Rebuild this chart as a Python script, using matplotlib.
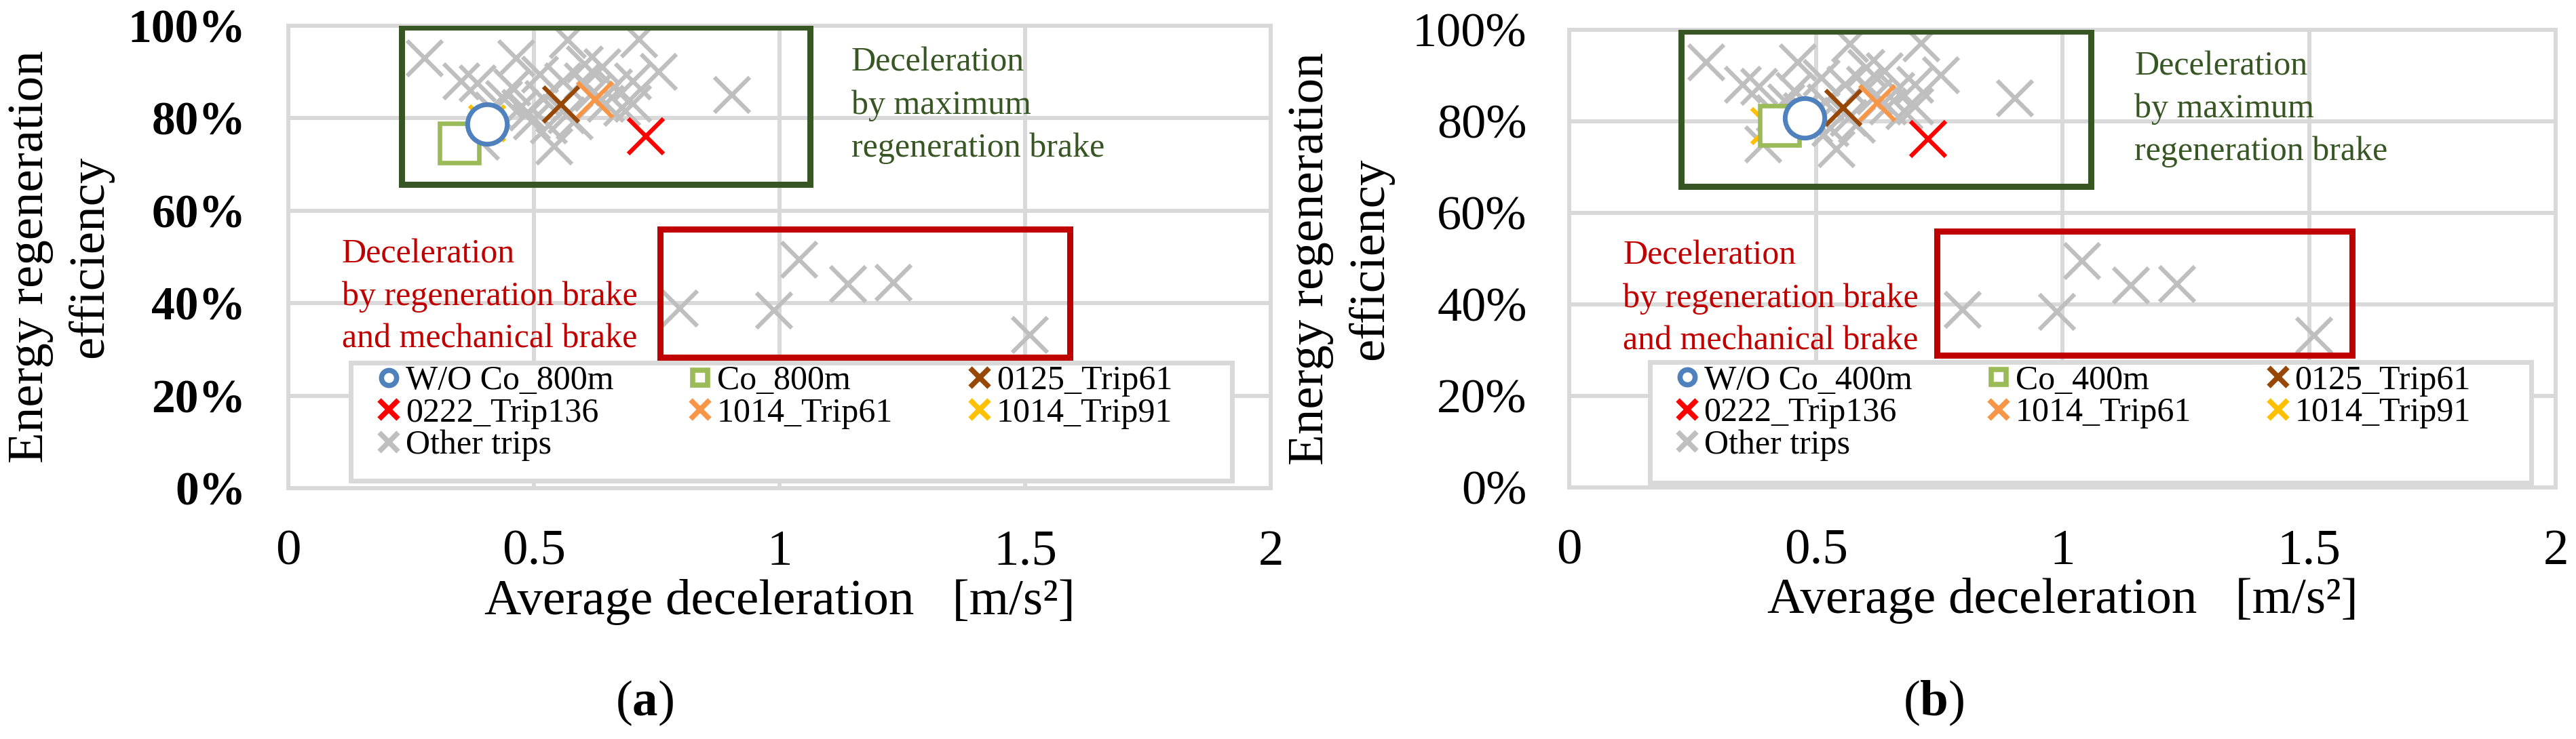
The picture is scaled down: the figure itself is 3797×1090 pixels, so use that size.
import matplotlib
matplotlib.use("Agg")
import matplotlib.pyplot as plt
from matplotlib.lines import Line2D
from matplotlib.patches import Rectangle
from matplotlib.ticker import PercentFormatter, FormatStrFormatter

plt.rcParams['font.family'] = ['Liberation Serif', 'DejaVu Serif']
plt.rcParams['mathtext.fontset'] = 'custom'
plt.rcParams['mathtext.rm'] = 'Liberation Serif'
plt.rcParams['mathtext.bf'] = 'Liberation Serif:bold'

# ---- data (average deceleration [m/s2], efficiency [%]) ----
other_x = [0.278, 0.352, 0.385, 0.464, 0.569, 0.714, 0.603, 0.754, 0.702, 0.903,
           0.393, 0.542, 0.472, 0.520, 0.440, 0.647, 0.702, 0.496, 0.583, 0.560,
           0.512, 0.663, 0.599, 0.567, 0.679, 0.456, 0.639, 0.488, 0.417, 0.530,
           0.620, 0.797, 0.989, 1.040, 1.139, 1.232, 1.510]
other_y = [92.9, 88.0, 87.6, 92.9, 96.9, 97.1, 91.7, 90.0, 88.0, 85.0,
           74.9, 73.9, 82.2, 84.1, 84.1, 83.2, 83.2, 79.3, 79.3, 88.0,
           89.5, 86.6, 88.0, 80.7, 82.2, 86.6, 91.0, 81.2, 81.7, 78.5,
           85.5, 38.8, 38.4, 49.4, 44.2, 44.4, 33.2]

trip_0125_61 = (0.556, 83.0)
trip_0222_136 = (0.728, 76.1)
trip_1014_61 = (0.624, 84.0)
trip_1014_91 = (0.405, 78.9)

wo_co_800 = (0.405, 78.8)
co_800 = (0.348, 74.7)
wo_co_400 = (0.477, 80.8)
co_400 = (0.426, 79.1)

x_ticks = [0, 0.5, 1, 1.5, 2]
y_ticks = [0, 20, 40, 60, 80, 100]

GRID = '#D9D9D9'
GRAY = '#BFBFBF'
BLUE = '#4F81BD'
GREEN = '#9BBB59'
BROWN = '#974706'
ORANGE = '#F79646'
RED = '#FF0000'
YELLOW = '#FFC000'
DKGREEN = '#375623'
DKRED = '#C00000'

fig = plt.figure(figsize=(37.97, 10.90), dpi=100)
ax1 = fig.add_axes([0.1119, 0.3394, 0.3814, 0.6257])
ax2 = fig.add_axes([0.6092, 0.3404, 0.3829, 0.6193])


def panel(ax, wo, co, wo_lab, co_lab, gbox, rbox, frame, anchor, bold):
    ax.set_xlim(0, 2)
    ax.set_ylim(0, 100)
    ax.set_xticks(x_ticks)
    ax.set_yticks(y_ticks)
    ax.xaxis.set_major_formatter(FormatStrFormatter('%g'))
    ax.yaxis.set_major_formatter(PercentFormatter(100, decimals=0))
    ax.grid(True, color=GRID, lw=4.3)
    ax.set_axisbelow(True)
    for s in ax.spines.values():
        s.set_color(GRID)
        s.set_linewidth(4.3)
    ax.tick_params(length=0)
    ax.tick_params(axis='x', pad=44, labelsize=54)
    ax.tick_params(axis='y', pad=45, labelsize=50 if bold else 52)
    if bold:
        for t in ax.get_yticklabels():
            t.set_fontweight('bold')

    xkw = dict(ls='none', marker='x', ms=38, mew=4.5)
    ax.plot(other_x, other_y, color=GRAY, zorder=3, **xkw)
    ax.plot(*trip_1014_91, color=YELLOW, zorder=4, **xkw)
    ax.plot(*trip_0125_61, color=BROWN, zorder=4, **xkw)
    ax.plot(*trip_0222_136, color=RED, zorder=4, **xkw)
    ax.plot(*trip_1014_61, color=ORANGE, zorder=4, **xkw)
    ax.plot(*co, ls='none', marker='s', ms=42, mew=4.8, mec=GREEN, mfc='white', zorder=5)
    ax.plot(*wo, ls='none', marker='o', ms=42, mew=5, mec=BLUE, mfc='white', zorder=5)

    ax.add_patch(Rectangle((gbox[0], gbox[2]), gbox[1] - gbox[0], gbox[3] - gbox[2],
                           fill=False, ec=DKGREEN, lw=6.5, zorder=6))
    ax.add_patch(Rectangle((rbox[0], rbox[2]), rbox[1] - rbox[0], rbox[3] - rbox[2],
                           fill=False, ec=DKRED, lw=6.5, zorder=6))
    ax.text(1.146, 95.4, 'Deceleration\nby maximum\nregeneration brake', color=DKGREEN,
            fontsize=36, va='top', ha='left', linespacing=1.46, zorder=7)
    ax.text(0.109, 54.0, 'Deceleration\nby regeneration brake\nand mechanical brake', color=DKRED,
            fontsize=36, va='top', ha='left', linespacing=1.46, zorder=7)

    # legend frame
    ax.add_patch(Rectangle((frame[0], frame[2]), frame[1] - frame[0], frame[3] - frame[2],
                           fc='white', ec=GRID, lw=5, zorder=8))
    lx = dict(ls='none', marker='x', ms=20, mew=5.5)
    handles = [
        Line2D([], [], marker='o', ls='none', ms=16, mew=5.5, mec=BLUE, mfc='white', label=wo_lab),
        Line2D([], [], color=RED, label='0222_Trip136', **lx),
        Line2D([], [], color=GRAY, label='Other trips', **lx),
        Line2D([], [], marker='s', ls='none', ms=16, mew=5.5, mec=GREEN, mfc='white', label=co_lab),
        Line2D([], [], color=ORANGE, label='1014_Trip61', **lx),
        Line2D([], [], color=BROWN, label='0125_Trip61', **lx),
        Line2D([], [], color=YELLOW, label='1014_Trip91', **lx),
    ]
    leg = ax.legend(handles=handles, ncol=3, loc='upper left', bbox_to_anchor=anchor,
                    bbox_transform=ax.transData, frameon=False, fontsize=36,
                    borderpad=0, borderaxespad=0, handlelength=0.6, handletextpad=0.2,
                    columnspacing=2.25, labelspacing=0.02)
    leg.set_zorder(9)

    ax.set_xlabel('Average deceleration   [m/s²]', fontsize=54)
    ax.xaxis.set_label_coords(0.5, -0.197)
    ax.set_ylabel('Energy regeneration\nefficiency', fontsize=54, linespacing=1.39)
    ax.yaxis.set_label_coords(-0.178, 0.5)


panel(ax1, wo_co_800, co_800, 'W/O Co_800m', 'Co_800m',
      (0.231, 1.062, 65.7, 99.7), (0.757, 1.591, 28.3, 56.0),
      (0.127, 1.921, 1.6, 27.1), (0.184, 26.6), True)
panel(ax2, wo_co_400, co_400, 'W/O Co_400m', 'Co_400m',
      (0.227, 1.058, 65.7, 99.7), (0.745, 1.587, 28.9, 56.0),
      (0.164, 1.951, 1.0, 27.4), (0.218, 26.8), False)

fig.text(950 / 3797, 1 - 1037 / 1090, r'($\mathbf{a}$)', ha='center', va='center', fontsize=54)
fig.text(2850 / 3797, 1 - 1037 / 1090, r'($\mathbf{b}$)', ha='center', va='center', fontsize=54)

fig.savefig('out.png', dpi=100, facecolor='white')
